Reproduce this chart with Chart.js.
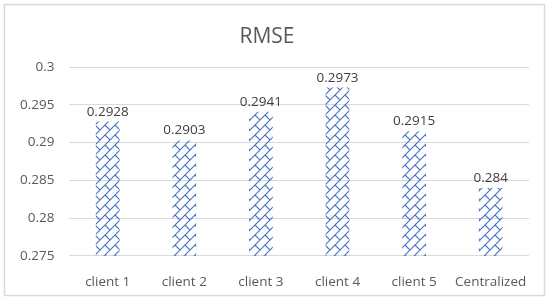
<!DOCTYPE html>
<html>
<head>
<meta charset="utf-8">
<script src="https://cdn.jsdelivr.net/npm/chart.js@4"></script>
<style>
  html, body { margin: 0; padding: 0; background: #fff; }
  #wrap { width: 550px; height: 304px; }
</style>
</head>
<body>
<div id="wrap"><canvas id="grafico" width="550" height="304"></canvas></div>
<script>
// dados
const categorias = ['client 1', 'client 2', 'client 3', 'client 4', 'client 5', 'Centralized'];
const rmse = [0.2928, 0.2903, 0.2941, 0.2973, 0.2915, 0.284];
const ticksY = [0.275, 0.28, 0.285, 0.29, 0.295, 0.3];

const azul = '#4472C4';

// padrão "diagonal brick" tipo Excel
function criarPadrao() {
  const c = document.createElement('canvas');
  const s = 10;
  c.width = s; c.height = s;
  const g = c.getContext('2d');
  g.strokeStyle = azul;
  g.lineWidth = 1.1;
  g.beginPath();
  g.moveTo(0, s); g.lineTo(s, 0);
  g.moveTo(-1, 1); g.lineTo(1, -1);
  g.moveTo(s - 1, s + 1); g.lineTo(s + 1, s - 1);
  // segmento perpendicular
  g.moveTo(s / 2, s / 2); g.lineTo(s, s);
  g.stroke();
  return g.createPattern(c, 'repeat');
}

const moldura = {
  id: 'moldura',
  afterDraw(chart) {
    const g = chart.ctx;
    g.save();
    g.strokeStyle = '#d9d9d9';
    g.lineWidth = 1.5;
    g.strokeRect(4.5, 4.5, 540, 291);
    g.restore();
  }
};

const rotulos = {
  id: 'rotulos',
  afterDatasetsDraw(chart) {
    const g = chart.ctx;
    const meta = chart.getDatasetMeta(0);
    g.save();
    g.font = '13.5px "Open Sans", Calibri, sans-serif';
    g.fillStyle = '#404040';
    g.textAlign = 'center';
    g.textBaseline = 'bottom';
    meta.data.forEach((bar, i) => {
      g.fillText(String(rmse[i]), bar.x, bar.y - 3);
    });
    g.restore();
  }
};

const ctx = document.getElementById('grafico').getContext('2d');
const chart = new Chart(ctx, {
  type: 'bar',
  data: {
    labels: categorias,
    datasets: [{
      label: 'RMSE',
      data: rmse,
      backgroundColor: criarPadrao(),
      borderWidth: 0,
      barPercentage: 0.62,
      categoryPercentage: 0.5
    }]
  },
  options: {
    responsive: false,
    animation: false,
    layout: { padding: { left: 5, right: 21, top: 24, bottom: 4 } },
    plugins: {
      legend: { display: false },
      tooltip: { enabled: false },
      title: {
        display: true,
        text: 'RMSE',
        color: '#595959',
        font: { family: '"Open Sans", Calibri, sans-serif', size: 21, weight: 'normal' },
        padding: { top: 0, bottom: 18 }
      }
    },
    scales: {
      x: {
        grid: { display: false },
        border: { display: false },
        ticks: {
          color: '#595959',
          font: { family: '"Open Sans", Calibri, sans-serif', size: 13.5 },
          padding: 10,
          maxRotation: 0,
          minRotation: 0,
          autoSkip: false
        }
      },
      y: {
        min: 0.275,
        max: 0.3,
        afterBuildTicks(axis) {
          axis.ticks = ticksY.map(v => ({ value: v }));
        },
        grid: { color: '#d9d9d9', drawTicks: false, lineWidth: 1 },
        border: { display: false },
        ticks: {
          color: '#595959',
          font: { family: '"Open Sans", Calibri, sans-serif', size: 13.5 },
          padding: 15,
          callback: v => String(+v.toFixed(4))
        }
      }
    }
  },
  plugins: [moldura, rotulos]
});
</script>
</body>
</html>
